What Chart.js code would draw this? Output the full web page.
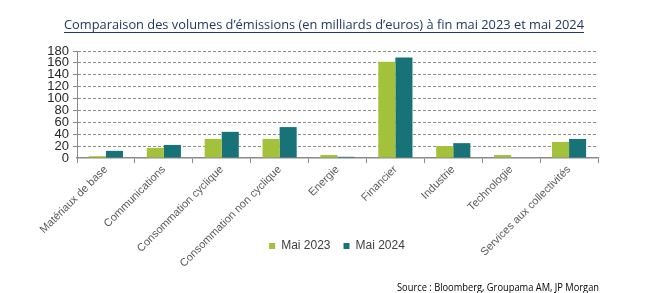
<!DOCTYPE html>
<html>
<head>
<meta charset="utf-8">
<script src="https://cdn.jsdelivr.net/npm/chart.js@4/dist/chart.umd.min.js"></script>
<style>
  html, body { margin: 0; padding: 0; background: #fff; }
  #wrap { position: relative; width: 645px; height: 293px; overflow: hidden; }
  #c { position: absolute; left: 0; top: 0; }
  .txt { position: absolute; white-space: nowrap; transform-origin: 0 50%; line-height: 1; }
  #title { left: 64px; top: 15px; font: 13px "Open Sans", sans-serif; color: #1F3864; text-decoration: underline; text-underline-offset: 3px; }
  #source { left: 397px; top: 280px; font: 10px "Open Sans", sans-serif; color: #000; }
</style>
</head>
<body>
<div id="wrap">
  <canvas id="c" width="645" height="293"></canvas>
  <div id="title" class="txt">Comparaison des volumes d’émissions (en milliards d’euros) à fin mai 2023 et mai 2024</div>
  <div id="source" class="txt">Source : Bloomberg, Groupama AM, JP Morgan</div>
</div>
<script>
const categories = ["Matériaux de base", "Communications", "Consommation cyclique", "Consommation non cyclique", "Energie", "Financier", "Industrie", "Technologie", "Services aux collectivités"];
const seriesNames = ["Mai 2023", "Mai 2024"];
const mai2023 = [3, 17, 32, 32, 5, 162, 20, 5, 27];
const mai2024 = [12, 22, 44, 52, 2, 169, 25, 0, 32];
const yTicks = [0, 20, 40, 60, 80, 100, 120, 140, 160, 180];

function fitWidth(id, w) {
  const el = document.getElementById(id);
  const cur = el.getBoundingClientRect().width;
  el.style.transform = 'scaleX(' + (w / cur) + ')';
}
fitWidth('title', 520);
fitWidth('source', 202);

const shiftLegend = {
  id: 'shiftLegend',
  afterLayout(chart) {
    const lg = chart.legend;
    if (lg) { lg.left += 38; lg.right += 38; }
  }
};

const axisColor = '#8a8a8a';
new Chart(document.getElementById('c'), {
  type: 'bar',
  data: {
    labels: categories,
    datasets: [
      { label: seriesNames[0], data: mai2023, backgroundColor: '#A3C13A', categoryPercentage: 0.59, barPercentage: 1.0 },
      { label: seriesNames[1], data: mai2024, backgroundColor: '#177377', categoryPercentage: 0.59, barPercentage: 1.0 }
    ]
  },
  plugins: [shiftLegend],
  options: {
    responsive: false,
    animation: false,
    layout: { padding: { left: 0, right: 47, top: 51, bottom: 31 } },
    plugins: {
      legend: {
        position: 'bottom',
        labels: { boxWidth: 6, boxHeight: 6, padding: 13, color: '#404040', font: { family: 'Liberation Sans', size: 12 } }
      },
      tooltip: { enabled: false }
    },
    scales: {
      x: {
        offset: true,
        afterFit: (s) => { s.height = 69; s._computeLabelArea = () => undefined; },
        grid: { display: true, offset: true, drawOnChartArea: false, drawTicks: true, tickLength: 5, color: axisColor },
        border: { display: true, color: axisColor, width: 1.5 },
        ticks: { maxRotation: 45, minRotation: 45, autoSkip: false, padding: 0, color: '#595959', font: { family: 'Liberation Sans', size: 11 } }
      },
      y: {
        min: 0, max: 180,
        afterFit: (s) => { s.width = 77; },
        afterBuildTicks: (s) => { s.ticks = yTicks.map(v => ({ value: v })); },
        grid: { color: (ctx) => ctx.tick && ctx.tick.value === 0 ? 'rgba(0,0,0,0)' : axisColor, tickLength: 4, lineWidth: 1 },
        border: { display: true, color: axisColor, width: 1, dash: [3, 2] },
        ticks: { autoSkip: false, padding: 4, color: '#262626', font: { family: 'Liberation Sans', size: 13 } }
      }
    }
  }
});
</script>
</body>
</html>
